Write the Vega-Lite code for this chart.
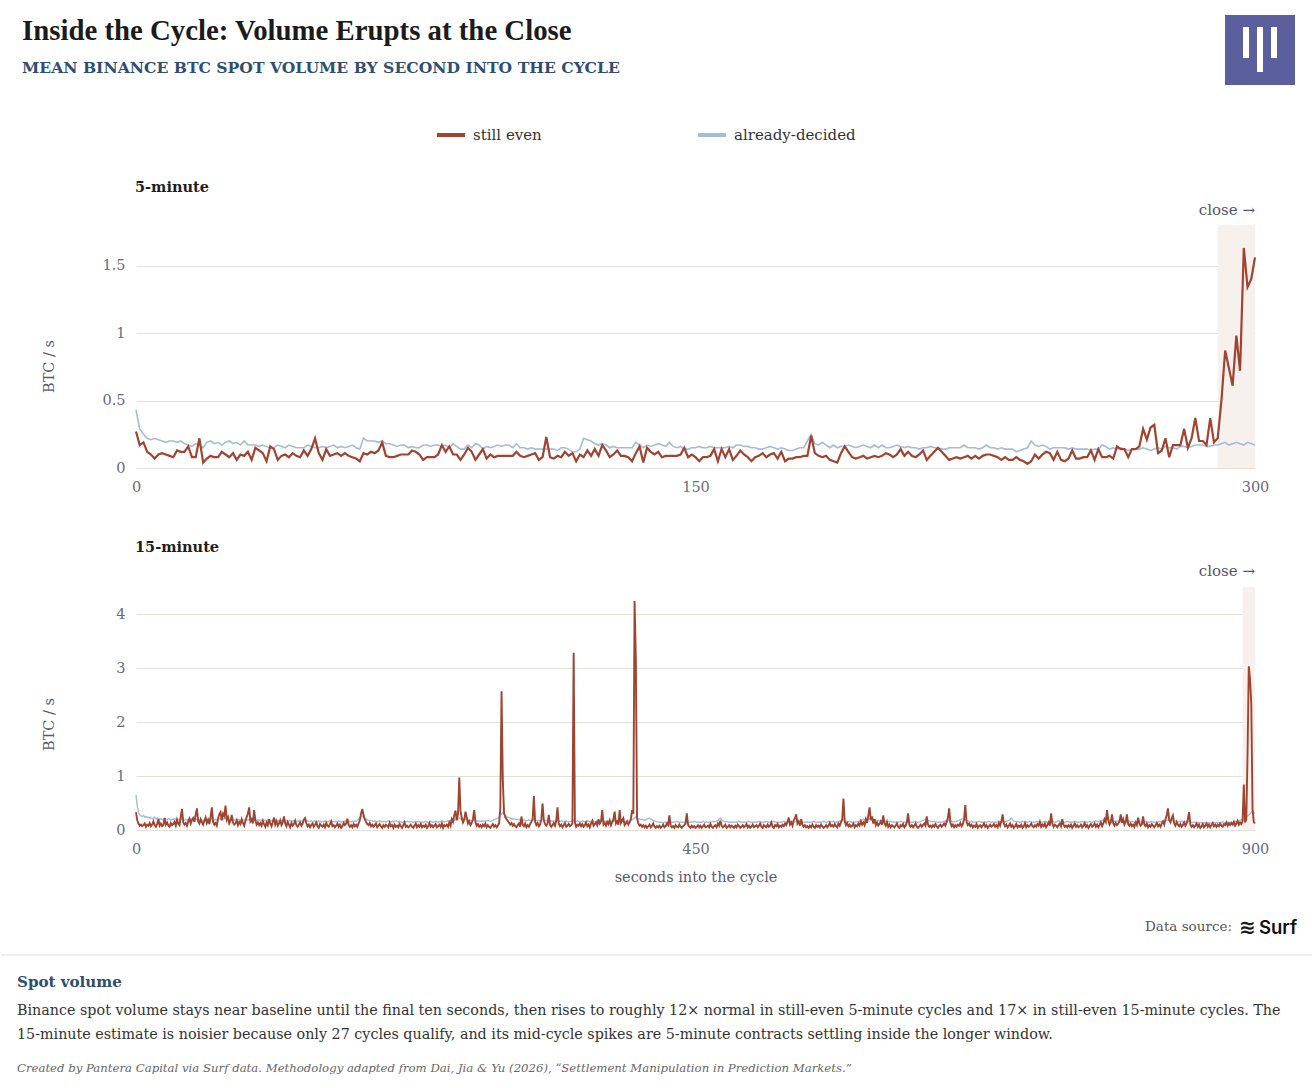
{
  "$schema": "https://vega.github.io/schema/vega-lite/v6.json",
  "background": "#ffffff",
  "padding": {"left": 0, "top": 15, "right": 0, "bottom": 0},
  "spacing": 46,
  "resolve": {"scale": {"color": "independent"}},
  "vconcat": [
    {
      "width": 1119,
      "height": 243,
      "data": {
        "values": "s,e,d\n0,.27,.43\n1,.17,.29\n2,.19,.25\n3,.12,.22\n4,.10,.21\n5,.07,.22\n6,.10,.21\n7,.11,.20\n8,.10,.19\n9,.09,.20\n10,.08,.20\n11,.13,.19\n12,.12,.20\n13,.12,.18\n14,.16,.17\n15,.08,.16\n16,.08,.18\n17,.22,.17\n18,.04,.15\n19,.07,.19\n20,.09,.20\n21,.08,.18\n22,.08,.19\n23,.12,.17\n24,.10,.19\n25,.08,.20\n26,.11,.18\n27,.06,.19\n28,.10,.17\n29,.09,.20\n30,.12,.17\n31,.06,.17\n32,.15,.17\n33,.13,.16\n34,.11,.17\n35,.05,.16\n36,.16,.15\n37,.14,.15\n38,.06,.17\n39,.09,.16\n40,.10,.15\n41,.08,.17\n42,.11,.16\n43,.09,.15\n44,.08,.15\n45,.13,.15\n46,.09,.17\n47,.14,.16\n48,.22,.15\n49,.11,.15\n50,.06,.16\n51,.14,.15\n52,.09,.16\n53,.10,.17\n54,.11,.15\n55,.09,.16\n56,.11,.15\n57,.09,.16\n58,.08,.17\n59,.07,.15\n60,.05,.14\n61,.11,.22\n62,.10,.20\n63,.12,.20\n64,.11,.20\n65,.13,.19\n66,.19,.20\n67,.09,.18\n68,.08,.18\n69,.08,.17\n70,.09,.16\n71,.10,.17\n72,.10,.17\n73,.10,.15\n74,.13,.16\n75,.12,.15\n76,.10,.15\n77,.06,.17\n78,.08,.17\n79,.08,.16\n80,.08,.17\n81,.10,.17\n82,.17,.16\n83,.12,.17\n84,.16,.15\n85,.10,.18\n86,.10,.16\n87,.06,.14\n88,.10,.14\n89,.15,.17\n90,.12,.15\n91,.06,.18\n92,.10,.17\n93,.14,.14\n94,.07,.16\n95,.10,.15\n96,.08,.16\n97,.09,.17\n98,.09,.16\n99,.09,.17\n100,.09,.17\n101,.09,.15\n102,.12,.18\n103,.09,.15\n104,.08,.15\n105,.09,.14\n106,.10,.15\n107,.11,.14\n108,.06,.14\n109,.08,.14\n110,.23,.14\n111,.08,.14\n112,.07,.14\n113,.09,.13\n114,.08,.15\n115,.12,.15\n116,.09,.14\n117,.11,.12\n118,.05,.12\n119,.10,.14\n120,.08,.22\n121,.13,.21\n122,.09,.20\n123,.14,.18\n124,.09,.17\n125,.17,.18\n126,.13,.17\n127,.08,.15\n128,.10,.16\n129,.13,.15\n130,.09,.15\n131,.09,.15\n132,.08,.15\n133,.05,.15\n134,.11,.19\n135,.16,.17\n136,.04,.15\n137,.15,.17\n138,.12,.16\n139,.10,.17\n140,.12,.18\n141,.08,.17\n142,.09,.16\n143,.09,.19\n144,.09,.16\n145,.09,.15\n146,.10,.16\n147,.15,.14\n148,.08,.14\n149,.10,.15\n150,.08,.15\n151,.05,.16\n152,.08,.15\n153,.08,.15\n154,.09,.16\n155,.14,.15\n156,.05,.15\n157,.14,.15\n158,.08,.15\n159,.14,.16\n160,.06,.15\n161,.09,.17\n162,.13,.17\n163,.10,.16\n164,.08,.16\n165,.05,.15\n166,.08,.15\n167,.09,.14\n168,.11,.14\n169,.08,.15\n170,.10,.16\n171,.11,.15\n172,.07,.14\n173,.12,.15\n174,.05,.14\n175,.07,.13\n176,.07,.13\n177,.08,.14\n178,.08,.15\n179,.09,.15\n180,.09,.20\n181,.24,.25\n182,.11,.18\n183,.09,.17\n184,.08,.19\n185,.09,.17\n186,.06,.15\n187,.05,.17\n188,.04,.15\n189,.11,.16\n190,.16,.16\n191,.12,.17\n192,.08,.16\n193,.07,.15\n194,.08,.16\n195,.09,.17\n196,.07,.16\n197,.08,.15\n198,.09,.17\n199,.08,.15\n200,.09,.17\n201,.11,.15\n202,.10,.15\n203,.08,.16\n204,.10,.17\n205,.14,.16\n206,.09,.15\n207,.12,.16\n208,.09,.15\n209,.08,.15\n210,.10,.14\n211,.13,.15\n212,.06,.15\n213,.09,.16\n214,.12,.15\n215,.15,.15\n216,.12,.14\n217,.09,.14\n218,.06,.15\n219,.07,.15\n220,.08,.15\n221,.07,.15\n222,.08,.17\n223,.09,.15\n224,.07,.15\n225,.09,.15\n226,.07,.14\n227,.09,.15\n228,.10,.17\n229,.10,.15\n230,.09,.15\n231,.08,.14\n232,.06,.15\n233,.08,.14\n234,.06,.14\n235,.06,.14\n236,.08,.12\n237,.06,.13\n238,.05,.14\n239,.03,.15\n240,.05,.20\n241,.10,.17\n242,.07,.16\n243,.10,.17\n244,.12,.16\n245,.11,.14\n246,.06,.15\n247,.12,.15\n248,.06,.15\n249,.05,.15\n250,.07,.14\n251,.13,.15\n252,.07,.14\n253,.07,.14\n254,.08,.14\n255,.08,.14\n256,.13,.13\n257,.06,.14\n258,.14,.14\n259,.08,.17\n260,.08,.16\n261,.09,.14\n262,.07,.15\n263,.16,.14\n264,.14,.15\n265,.14,.14\n266,.08,.13\n267,.14,.14\n268,.14,.14\n269,.16,.14\n270,.29,.15\n271,.21,.14\n272,.30,.13\n273,.32,.14\n274,.11,.15\n275,.13,.14\n276,.22,.16\n277,.08,.15\n278,.17,.15\n279,.17,.14\n280,.17,.16\n281,.29,.16\n282,.15,.15\n283,.22,.16\n284,.37,.17\n285,.20,.17\n286,.20,.17\n287,.17,.16\n288,.37,.16\n289,.19,.17\n290,.22,.17\n291,.50,.18\n292,.87,.19\n293,.74,.17\n294,.61,.18\n295,.98,.19\n296,.72,.18\n297,1.63,.17\n298,1.34,.19\n299,1.40,.18\n300,1.56,.17",
        "format": {"type": "csv", "parse": {"s": "number", "e": "number", "d": "number"}}
      },
      "encoding": {
        "x": {
          "field": "s",
          "type": "quantitative",
          "title": null,
          "scale": {"domain": [0, 300], "nice": false, "zero": false},
          "axis": {"values": [0, 150, 300]}
        }
      },
      "layer": [
        {
          "data": {"values": [{"s": 290, "s2": 300}]},
          "mark": {"type": "rect", "color": "#f7f1ee"},
          "encoding": {
            "x2": {"field": "s2"},
            "y": {"datum": 0, "type": "quantitative", "title": "BTC / s", "scale": {"domain": [0, 1.8], "nice": false}, "axis": {"values": [0, 0.5, 1, 1.5], "format": "~g", "grid": true}},
            "y2": {"datum": 1.8}
          }
        },
        {
          "mark": {"type": "line", "strokeWidth": 1.6},
          "encoding": {
            "y": {
              "field": "d",
              "type": "quantitative",
              "title": "BTC / s",
              "scale": {"domain": [0, 1.8], "nice": false},
              "axis": {"values": [0, 0.5, 1, 1.5], "format": "~g", "grid": true}
            },
            "color": {
              "datum": "already-decided",
              "scale": {"domain": ["still even", "already-decided"], "range": ["#a0432f", "#a3bcd9"]},
              "legend": {
                "orient": "none", "legendX": 299, "legendY": -106, "direction": "horizontal",
                "title": null, "symbolType": "stroke", "symbolStrokeWidth": 4, "symbolSize": 784,
                "labelFont": "DejaVu Serif", "labelFontSize": 15, "labelColor": "#333333",
                "labelOffset": 6, "columnPadding": 148, "padding": 0
              }
            }
          }
        },
        {
          "mark": {"type": "line", "strokeWidth": 2.2},
          "encoding": {
            "y": {
              "field": "e",
              "type": "quantitative",
              "title": "BTC / s",
              "scale": {"domain": [0, 1.8], "nice": false},
              "axis": {"values": [0, 0.5, 1, 1.5], "format": "~g", "grid": true}
            },
            "color": {
              "datum": "still even",
              "scale": {"domain": ["still even", "already-decided"], "range": ["#a0432f", "#a3bcd9"]},
              "legend": {
                "orient": "none", "legendX": 299, "legendY": -106, "direction": "horizontal",
                "title": null, "symbolType": "stroke", "symbolStrokeWidth": 4, "symbolSize": 784,
                "labelFont": "DejaVu Serif", "labelFontSize": 15, "labelColor": "#333333",
                "labelOffset": 6, "columnPadding": 148, "padding": 0
              }
            }
          }
        },
        {
          "data": {"values": [{"t": "close →"}]},
          "mark": {"type": "text", "align": "right", "baseline": "middle", "fontSize": 15, "color": "#555566"},
          "encoding": {"x": {"value": 1119}, "y": {"value": -15}, "text": {"field": "t"}}
        },
        {
          "data": {"values": [{"t": "5-minute"}]},
          "mark": {"type": "text", "align": "left", "baseline": "middle", "fontSize": 14.5, "fontWeight": "bold", "color": "#1e1e1e"},
          "encoding": {"x": {"value": -1}, "y": {"value": -37}, "text": {"field": "t"}}
        },
        {
          "data": {"values": [{"t": "Inside the Cycle: Volume Erupts at the Close"}]},
          "mark": {"type": "text", "align": "left", "baseline": "middle", "font": "Liberation Serif", "fontSize": 28.8, "fontWeight": "bold", "color": "#1b1b1b"},
          "encoding": {"x": {"value": -114}, "y": {"value": -194}, "text": {"field": "t"}}
        },
        {
          "data": {"values": [{"t": "MEAN BINANCE BTC SPOT VOLUME BY SECOND INTO THE CYCLE"}]},
          "mark": {"type": "text", "align": "left", "baseline": "middle", "font": "DejaVu Serif", "fontSize": 15.6, "fontWeight": "bold", "color": "#2e4e74"},
          "encoding": {"x": {"value": -114}, "y": {"value": -157}, "text": {"field": "t"}}
        },
        {
          "data": {"values": [{}]},
          "mark": {"type": "rect", "color": "#5c5f9e"},
          "encoding": {"x": {"value": 1089}, "x2": {"value": 1159}, "y": {"value": -210}, "y2": {"value": -140}}
        },
        {
          "data": {"values": [{}]},
          "mark": {"type": "rect", "color": "#ffffff"},
          "encoding": {"x": {"value": 1107}, "x2": {"value": 1113}, "y": {"value": -198}, "y2": {"value": -167}}
        },
        {
          "data": {"values": [{}]},
          "mark": {"type": "rect", "color": "#ffffff"},
          "encoding": {"x": {"value": 1121}, "x2": {"value": 1127}, "y": {"value": -198}, "y2": {"value": -153}}
        },
        {
          "data": {"values": [{}]},
          "mark": {"type": "rect", "color": "#ffffff"},
          "encoding": {"x": {"value": 1135}, "x2": {"value": 1141}, "y": {"value": -198}, "y2": {"value": -167}}
        }
      ]
    },
    {
      "width": 1119,
      "height": 243,
      "data": {
        "values": "s,e,d\n0,.33,.65\n1,.18,.45\n2,.12,.33\n3,.08,.28\n4,.1,.26\n5,.07,.25\n6,.09,.27\n7,.12,.24\n8,.06,.25\n9,.1,.23\n10,.08,.24\n11,.13,.22\n12,.07,.23\n13,.1,.21\n14,.16,.22\n15,.09,.24\n16,.06,.2\n17,.11,.22\n18,.2,.21\n19,.08,.2\n20,.12,.21\n21,.07,.19\n22,.09,.2\n23,.22,.22\n24,.1,.2\n25,.14,.19\n26,.08,.21\n27,.06,.2\n28,.13,.18\n29,.09,.2\n30,.11,.19\n31,.15,.21\n32,.08,.2\n33,.19,.18\n34,.12,.2\n35,.09,.19\n36,.25,.21\n37,.39,.2\n38,.14,.19\n39,.1,.18\n40,.13,.2\n41,.08,.19\n42,.16,.18\n43,.21,.2\n44,.12,.21\n45,.18,.19\n46,.22,.2\n47,.15,.18\n48,.28,.19\n49,.4,.2\n50,.16,.19\n51,.12,.18\n52,.2,.2\n53,.14,.19\n54,.1,.17\n55,.17,.19\n56,.23,.2\n57,.13,.18\n58,.19,.19\n59,.11,.18\n60,.24,.2\n61,.42,.21\n62,.15,.19\n63,.1,.18\n64,.13,.2\n65,.08,.19\n66,.21,.18\n67,.29,.2\n68,.33,.21\n69,.18,.19\n70,.3,.2\n71,.26,.21\n72,.45,.22\n73,.19,.2\n74,.24,.19\n75,.12,.2\n76,.17,.18\n77,.28,.19\n78,.14,.2\n79,.1,.18\n80,.12,.19\n81,.18,.18\n82,.09,.2\n83,.15,.19\n84,.11,.18\n85,.2,.17\n86,.13,.19\n87,.08,.18\n88,.16,.2\n89,.24,.19\n90,.3,.18\n91,.42,.2\n92,.16,.19\n93,.2,.18\n94,.12,.2\n95,.37,.19\n96,.18,.17\n97,.1,.18\n98,.14,.19\n99,.09,.18\n100,.13,.19\n101,.08,.18\n102,.17,.17\n103,.11,.19\n104,.06,.18\n105,.14,.17\n106,.09,.19\n107,.2,.18\n108,.12,.17\n109,.07,.18\n110,.15,.17\n111,.23,.18\n112,.1,.19\n113,.16,.17\n114,.08,.18\n115,.12,.16\n116,.18,.18\n117,.09,.17\n118,.14,.19\n119,.25,.18\n120,.12,.17\n121,.07,.18\n122,.15,.16\n123,.1,.17\n124,.05,.18\n125,.13,.17\n126,.08,.16\n127,.11,.18\n128,.17,.17\n129,.09,.16\n130,.06,.17\n131,.1,.16\n132,.14,.18\n133,.08,.17\n134,.12,.16\n135,.19,.17\n136,.22,.18\n137,.13,.16\n138,.07,.17\n139,.1,.16\n140,.05,.16\n141,.09,.17\n142,.12,.15\n143,.06,.16\n144,.1,.17\n145,.14,.16\n146,.07,.15\n147,.04,.17\n148,.11,.16\n149,.08,.15\n150,.06,.16\n151,.1,.15\n152,.05,.17\n153,.13,.16\n154,.08,.15\n155,.06,.16\n156,.11,.17\n157,.16,.15\n158,.07,.16\n159,.09,.15\n160,.05,.15\n161,.08,.16\n162,.12,.15\n163,.06,.17\n164,.1,.16\n165,.04,.15\n166,.07,.16\n167,.13,.15\n168,.09,.17\n169,.12,.16\n170,.21,.16\n171,.1,.15\n172,.06,.16\n173,.09,.15\n174,.05,.16\n175,.11,.15\n176,.07,.17\n177,.1,.16\n178,.06,.18\n179,.12,.2\n180,.18,.23\n181,.3,.25\n182,.39,.26\n183,.28,.24\n184,.2,.22\n185,.15,.2\n186,.11,.19\n187,.09,.18\n188,.13,.17\n189,.07,.18\n190,.1,.17\n191,.06,.16\n192,.09,.17\n193,.12,.16\n194,.05,.15\n195,.08,.16\n196,.11,.17\n197,.07,.16\n198,.04,.15\n199,.09,.16\n200,.06,.16\n201,.1,.15\n202,.08,.16\n203,.05,.17\n204,.13,.16\n205,.07,.15\n206,.09,.16\n207,.04,.15\n208,.1,.16\n209,.06,.17\n210,.08,.16\n211,.05,.15\n212,.11,.16\n213,.07,.15\n214,.04,.14\n215,.09,.15\n216,.14,.16\n217,.06,.15\n218,.08,.16\n219,.05,.15\n220,.07,.15\n221,.1,.16\n222,.06,.15\n223,.04,.14\n224,.08,.15\n225,.12,.16\n226,.05,.15\n227,.09,.16\n228,.06,.15\n229,.11,.14\n230,.05,.15\n231,.08,.14\n232,.06,.15\n233,.1,.16\n234,.04,.15\n235,.07,.14\n236,.13,.15\n237,.06,.16\n238,.09,.15\n239,.05,.14\n240,.08,.15\n241,.11,.16\n242,.05,.15\n243,.07,.14\n244,.1,.16\n245,.06,.15\n246,.12,.17\n247,.04,.16\n248,.09,.15\n249,.07,.16\n250,.1,.16\n251,.06,.17\n252,.14,.16\n253,.08,.18\n254,.2,.17\n255,.15,.19\n256,.28,.18\n257,.36,.2\n258,.18,.19\n259,.3,.2\n260,.97,.22\n261,.35,.21\n262,.22,.2\n263,.14,.19\n264,.19,.2\n265,.34,.21\n266,.24,.19\n267,.12,.18\n268,.16,.19\n269,.09,.18\n270,.13,.17\n271,.2,.18\n272,.37,.19\n273,.15,.18\n274,.08,.17\n275,.11,.16\n276,.06,.17\n277,.09,.16\n278,.05,.17\n279,.1,.16\n280,.07,.17\n281,.12,.16\n282,.05,.17\n283,.09,.18\n284,.06,.17\n285,.04,.16\n286,.08,.17\n287,.11,.18\n288,.06,.19\n289,.09,.2\n290,.05,.21\n291,.08,.22\n292,.12,.24\n293,.4,.27\n294,2.57,.3\n295,.95,.32\n296,.32,.29\n297,.24,.27\n298,.2,.25\n299,.17,.24\n300,.14,.23\n301,.1,.22\n302,.13,.21\n303,.08,.2\n304,.11,.21\n305,.07,.2\n306,.05,.19\n307,.09,.2\n308,.12,.19\n309,.06,.18\n310,.25,.19\n311,.1,.18\n312,.07,.19\n313,.12,.18\n314,.05,.17\n315,.09,.18\n316,.06,.19\n317,.11,.18\n318,.15,.17\n319,.2,.18\n320,.63,.2\n321,.15,.19\n322,.09,.18\n323,.13,.17\n324,.07,.18\n325,.1,.17\n326,.2,.18\n327,.49,.2\n328,.18,.19\n329,.11,.18\n330,.08,.17\n331,.12,.18\n332,.28,.17\n333,.1,.16\n334,.06,.17\n335,.09,.16\n336,.13,.17\n337,.08,.16\n338,.17,.17\n339,.42,.18\n340,.12,.17\n341,.07,.16\n342,.1,.17\n343,.05,.16\n344,.09,.15\n345,.13,.16\n346,.06,.17\n347,.08,.16\n348,.11,.15\n349,.07,.16\n350,.09,.16\n351,.12,.17\n352,3.28,.18\n353,.14,.17\n354,.06,.16\n355,.1,.17\n356,.08,.16\n357,.12,.15\n358,.07,.16\n359,.11,.17\n360,.06,.16\n361,.09,.15\n362,.14,.16\n363,.07,.17\n364,.1,.16\n365,.05,.15\n366,.12,.16\n367,.17,.15\n368,.08,.16\n369,.11,.15\n370,.14,.16\n371,.09,.17\n372,.2,.16\n373,.12,.15\n374,.16,.16\n375,.37,.17\n376,.1,.16\n377,.13,.17\n378,.08,.16\n379,.15,.15\n380,.11,.16\n381,.18,.15\n382,.09,.16\n383,.14,.17\n384,.2,.16\n385,.34,.17\n386,.12,.16\n387,.16,.15\n388,.1,.16\n389,.37,.17\n390,.13,.16\n391,.18,.17\n392,.22,.16\n393,.09,.15\n394,.12,.16\n395,.16,.17\n396,.1,.16\n397,.14,.17\n398,.2,.18\n399,.37,.19\n400,.3,.2\n401,4.24,.22\n402,3.2,.24\n403,.22,.22\n404,.12,.21\n405,.08,.2\n406,.1,.19\n407,.06,.2\n408,.09,.19\n409,.05,.18\n410,.08,.19\n411,.04,.2\n412,.07,.21\n413,.1,.22\n414,.05,.2\n415,.08,.19\n416,.12,.18\n417,.06,.17\n418,.04,.16\n419,.07,.15\n420,.05,.15\n421,.08,.14\n422,.04,.15\n423,.06,.14\n424,.1,.13\n425,.05,.14\n426,.07,.15\n427,.12,.14\n428,.09,.15\n429,.27,.16\n430,.08,.15\n431,.05,.14\n432,.07,.15\n433,.04,.14\n434,.09,.15\n435,.06,.16\n436,.05,.15\n437,.1,.14\n438,.06,.15\n439,.04,.14\n440,.07,.15\n441,.09,.14\n442,.12,.15\n443,.31,.16\n444,.1,.15\n445,.06,.14\n446,.04,.15\n447,.08,.14\n448,.05,.15\n449,.07,.16\n450,.04,.15\n451,.06,.14\n452,.09,.15\n453,.05,.14\n454,.08,.15\n455,.04,.14\n456,.07,.16\n457,.1,.15\n458,.05,.14\n459,.06,.15\n460,.08,.14\n461,.05,.15\n462,.11,.14\n463,.06,.15\n464,.04,.16\n465,.07,.15\n466,.09,.16\n467,.05,.17\n468,.12,.18\n469,.08,.2\n470,.17,.22\n471,.08,.19\n472,.05,.17\n473,.07,.16\n474,.1,.15\n475,.04,.16\n476,.06,.15\n477,.09,.14\n478,.05,.15\n479,.08,.14\n480,.06,.15\n481,.04,.14\n482,.08,.15\n483,.05,.14\n484,.1,.15\n485,.07,.16\n486,.04,.15\n487,.06,.14\n488,.09,.15\n489,.05,.14\n490,.07,.15\n491,.11,.14\n492,.05,.15\n493,.08,.16\n494,.04,.15\n495,.06,.14\n496,.1,.15\n497,.05,.14\n498,.07,.15\n499,.09,.14\n500,.05,.15\n501,.08,.16\n502,.12,.15\n503,.06,.14\n504,.04,.15\n505,.09,.14\n506,.07,.15\n507,.05,.16\n508,.1,.15\n509,.06,.14\n510,.08,.15\n511,.14,.14\n512,.06,.15\n513,.04,.16\n514,.09,.15\n515,.07,.14\n516,.11,.15\n517,.05,.14\n518,.08,.15\n519,.06,.14\n520,.1,.15\n521,.07,.16\n522,.12,.15\n523,.09,.14\n524,.15,.15\n525,.23,.16\n526,.1,.15\n527,.14,.16\n528,.08,.15\n529,.18,.14\n530,.22,.15\n531,.29,.16\n532,.12,.17\n533,.16,.16\n534,.08,.15\n535,.2,.16\n536,.1,.15\n537,.06,.14\n538,.09,.15\n539,.05,.14\n540,.07,.15\n541,.04,.14\n542,.08,.15\n543,.05,.14\n544,.1,.15\n545,.06,.16\n546,.04,.15\n547,.09,.14\n548,.06,.15\n549,.08,.14\n550,.05,.15\n551,.1,.14\n552,.07,.15\n553,.04,.16\n554,.06,.15\n555,.09,.14\n556,.05,.15\n557,.08,.16\n558,.13,.15\n559,.07,.16\n560,.09,.15\n561,.06,.16\n562,.11,.15\n563,.07,.14\n564,.05,.15\n565,.12,.16\n566,.08,.17\n567,.14,.16\n568,.2,.17\n569,.58,.19\n570,.16,.18\n571,.09,.17\n572,.13,.16\n573,.07,.15\n574,.1,.16\n575,.06,.15\n576,.08,.14\n577,.12,.15\n578,.05,.14\n579,.09,.15\n580,.07,.15\n581,.12,.16\n582,.08,.17\n583,.16,.18\n584,.1,.19\n585,.14,.2\n586,.09,.19\n587,.2,.18\n588,.13,.19\n589,.27,.2\n590,.42,.21\n591,.18,.2\n592,.25,.19\n593,.12,.18\n594,.2,.19\n595,.09,.18\n596,.14,.17\n597,.08,.18\n598,.11,.17\n599,.16,.16\n600,.1,.17\n601,.27,.18\n602,.12,.17\n603,.08,.16\n604,.15,.15\n605,.06,.16\n606,.1,.15\n607,.05,.16\n608,.09,.15\n609,.07,.14\n610,.05,.15\n611,.08,.14\n612,.12,.15\n613,.06,.14\n614,.04,.15\n615,.09,.16\n616,.07,.15\n617,.11,.14\n618,.05,.15\n619,.08,.14\n620,.14,.15\n621,.31,.16\n622,.1,.15\n623,.06,.14\n624,.09,.15\n625,.05,.14\n626,.08,.15\n627,.12,.16\n628,.06,.15\n629,.04,.14\n630,.07,.15\n631,.1,.16\n632,.06,.17\n633,.09,.18\n634,.12,.19\n635,.08,.2\n636,.25,.19\n637,.1,.18\n638,.06,.17\n639,.08,.16\n640,.05,.16\n641,.09,.15\n642,.06,.16\n643,.11,.15\n644,.07,.14\n645,.04,.15\n646,.08,.14\n647,.1,.15\n648,.06,.14\n649,.09,.15\n650,.12,.16\n651,.08,.17\n652,.15,.16\n653,.22,.17\n654,.4,.18\n655,.14,.17\n656,.07,.16\n657,.1,.15\n658,.05,.16\n659,.09,.15\n660,.06,.16\n661,.1,.17\n662,.08,.18\n663,.13,.19\n664,.07,.2\n665,.11,.21\n666,.2,.2\n667,.46,.19\n668,.15,.18\n669,.09,.17\n670,.12,.16\n671,.07,.15\n672,.1,.16\n673,.05,.15\n674,.08,.14\n675,.06,.15\n676,.11,.14\n677,.04,.15\n678,.07,.16\n679,.09,.15\n680,.05,.14\n681,.08,.15\n682,.12,.14\n683,.06,.15\n684,.09,.14\n685,.04,.15\n686,.07,.16\n687,.1,.15\n688,.06,.14\n689,.08,.15\n690,.11,.14\n691,.06,.15\n692,.09,.14\n693,.05,.15\n694,.13,.16\n695,.08,.15\n696,.16,.16\n697,.29,.15\n698,.12,.14\n699,.07,.15\n700,.1,.16\n701,.05,.17\n702,.08,.18\n703,.12,.2\n704,.06,.22\n705,.09,.19\n706,.04,.17\n707,.07,.16\n708,.11,.15\n709,.05,.16\n710,.08,.15\n711,.06,.14\n712,.1,.15\n713,.04,.16\n714,.07,.15\n715,.13,.14\n716,.05,.15\n717,.09,.14\n718,.06,.15\n719,.08,.16\n720,.12,.15\n721,.07,.14\n722,.05,.15\n723,.09,.14\n724,.06,.15\n725,.11,.16\n726,.08,.15\n727,.15,.14\n728,.06,.15\n729,.1,.14\n730,.07,.15\n731,.12,.16\n732,.05,.15\n733,.09,.14\n734,.14,.15\n735,.08,.16\n736,.31,.15\n737,.12,.16\n738,.06,.15\n739,.1,.14\n740,.08,.15\n741,.05,.16\n742,.09,.17\n743,.12,.16\n744,.07,.15\n745,.2,.16\n746,.1,.15\n747,.06,.14\n748,.08,.15\n749,.05,.16\n750,.09,.15\n751,.06,.14\n752,.1,.15\n753,.04,.14\n754,.08,.15\n755,.12,.16\n756,.06,.15\n757,.09,.14\n758,.05,.15\n759,.07,.14\n760,.1,.15\n761,.05,.16\n762,.08,.15\n763,.13,.14\n764,.06,.15\n765,.09,.14\n766,.04,.15\n767,.08,.16\n768,.11,.15\n769,.06,.14\n770,.08,.15\n771,.12,.16\n772,.06,.17\n773,.1,.16\n774,.05,.15\n775,.09,.16\n776,.14,.17\n777,.07,.18\n778,.12,.19\n779,.2,.2\n780,.15,.21\n781,.37,.2\n782,.18,.19\n783,.1,.18\n784,.14,.19\n785,.29,.18\n786,.12,.17\n787,.08,.16\n788,.13,.17\n789,.09,.16\n790,.12,.17\n791,.16,.16\n792,.29,.17\n793,.13,.18\n794,.2,.17\n795,.1,.16\n796,.15,.17\n797,.29,.16\n798,.11,.15\n799,.08,.16\n800,.12,.15\n801,.07,.16\n802,.1,.15\n803,.06,.14\n804,.14,.15\n805,.09,.16\n806,.23,.15\n807,.12,.16\n808,.08,.15\n809,.11,.14\n810,.25,.15\n811,.1,.16\n812,.07,.15\n813,.12,.14\n814,.05,.15\n815,.09,.14\n816,.06,.15\n817,.11,.16\n818,.08,.15\n819,.05,.14\n820,.09,.15\n821,.13,.14\n822,.07,.15\n823,.1,.16\n824,.06,.15\n825,.12,.16\n826,.16,.17\n827,.1,.16\n828,.2,.17\n829,.27,.18\n830,.4,.19\n831,.18,.18\n832,.14,.17\n833,.22,.18\n834,.27,.17\n835,.12,.16\n836,.08,.17\n837,.15,.16\n838,.1,.15\n839,.07,.16\n840,.11,.15\n841,.06,.16\n842,.09,.15\n843,.14,.16\n844,.08,.15\n845,.12,.14\n846,.2,.15\n847,.33,.16\n848,.1,.15\n849,.06,.14\n850,.09,.14\n851,.05,.15\n852,.08,.14\n853,.12,.13\n854,.06,.14\n855,.1,.13\n856,.04,.14\n857,.07,.13\n858,.11,.14\n859,.05,.13\n860,.08,.13\n861,.12,.14\n862,.06,.13\n863,.1,.14\n864,.05,.13\n865,.09,.12\n866,.13,.13\n867,.07,.14\n868,.1,.13\n869,.06,.14\n870,.1,.13\n871,.07,.14\n872,.12,.13\n873,.08,.14\n874,.06,.15\n875,.11,.14\n876,.09,.13\n877,.14,.14\n878,.08,.15\n879,.12,.14\n880,.09,.14\n881,.13,.15\n882,.1,.14\n883,.15,.15\n884,.08,.16\n885,.12,.15\n886,.17,.16\n887,.1,.17\n888,.14,.18\n889,.11,.19\n890,.16,.2\n891,.84,.21\n892,.14,.22\n893,.2,.24\n894,1.4,.26\n895,3.03,.28\n896,2.8,.3\n897,2.35,.33\n898,.4,.35\n899,.15,.32\n900,.12,.3",
        "format": {"type": "csv", "parse": {"s": "number", "e": "number", "d": "number"}}
      },
      "encoding": {
        "x": {
          "field": "s",
          "type": "quantitative",
          "title": "seconds into the cycle",
          "scale": {"domain": [0, 900], "nice": false, "zero": false},
          "axis": {"values": [0, 450, 900], "titleY": 47, "titleBaseline": "middle"}
        }
      },
      "layer": [
        {
          "data": {"values": [{"s": 890, "s2": 900}]},
          "mark": {"type": "rect", "color": "#f7f1ee"},
          "encoding": {
            "x2": {"field": "s2"},
            "y": {"datum": 0, "type": "quantitative", "title": "BTC / s", "scale": {"domain": [0, 4.5], "nice": false}, "axis": {"values": [0, 1, 2, 3, 4], "format": "~g", "grid": true, "titleY": 137}},
            "y2": {"datum": 4.5}
          }
        },
        {
          "mark": {"type": "line", "strokeWidth": 1.4},
          "encoding": {
            "y": {
              "field": "d",
              "type": "quantitative",
              "title": "BTC / s",
              "scale": {"domain": [0, 4.5], "nice": false},
              "axis": {"values": [0, 1, 2, 3, 4], "format": "~g", "grid": true, "titleY": 137}
            },
            "color": {
              "datum": "already-decided",
              "scale": {"domain": ["still even", "already-decided"], "range": ["#a0432f", "#a3bcd9"]},
              "legend": null
            }
          }
        },
        {
          "mark": {"type": "line", "strokeWidth": 1.9},
          "encoding": {
            "y": {
              "field": "e",
              "type": "quantitative",
              "title": "BTC / s",
              "scale": {"domain": [0, 4.5], "nice": false},
              "axis": {"values": [0, 1, 2, 3, 4], "format": "~g", "grid": true, "titleY": 137}
            },
            "color": {
              "datum": "still even",
              "scale": {"domain": ["still even", "already-decided"], "range": ["#a0432f", "#a3bcd9"]},
              "legend": null
            }
          }
        },
        {
          "data": {"values": [{"t": "close →"}]},
          "mark": {"type": "text", "align": "right", "baseline": "middle", "fontSize": 15, "color": "#555566"},
          "encoding": {"x": {"value": 1119}, "y": {"value": -16}, "text": {"field": "t"}}
        },
        {
          "data": {"values": [{"t": "15-minute"}]},
          "mark": {"type": "text", "align": "left", "baseline": "middle", "fontSize": 14.5, "fontWeight": "bold", "color": "#1e1e1e"},
          "encoding": {"x": {"value": -1}, "y": {"value": -39}, "text": {"field": "t"}}
        },
        {
          "data": {"values": [{"t": "Data source:"}]},
          "mark": {"type": "text", "align": "right", "baseline": "middle", "fontSize": 13.5, "color": "#555555"},
          "encoding": {"x": {"value": 1096}, "y": {"value": 340}, "text": {"field": "t"}}
        },
        {
          "data": {"values": [{"t": "≋"}]},
          "mark": {"type": "text", "align": "left", "baseline": "middle", "font": "DejaVu Sans", "fontSize": 20, "fontWeight": "bold", "color": "#1a1a1a"},
          "encoding": {"x": {"value": 1103}, "y": {"value": 341}, "text": {"field": "t"}}
        },
        {
          "data": {"values": [{"t": "Surf"}]},
          "mark": {"type": "text", "align": "left", "baseline": "middle", "font": "Inter", "fontSize": 18.5, "fontWeight": 600, "color": "#111111"},
          "encoding": {"x": {"value": 1123}, "y": {"value": 341}, "text": {"field": "t"}}
        },
        {
          "data": {"values": [{}]},
          "mark": {"type": "rule", "color": "#deddd8", "strokeWidth": 1},
          "encoding": {"x": {"value": -135}, "x2": {"value": 1177}, "y": {"value": 368}}
        },
        {
          "data": {"values": [{"t": "Spot volume"}]},
          "mark": {"type": "text", "align": "left", "baseline": "middle", "fontSize": 15.1, "fontWeight": "bold", "color": "#2d4e73"},
          "encoding": {"x": {"value": -119}, "y": {"value": 395}, "text": {"field": "t"}}
        },
        {
          "data": {"values": [
            {"t": "Binance spot volume stays near baseline until the final ten seconds, then rises to roughly 12× normal in still-even 5-minute cycles and 17× in still-even 15-minute cycles. The", "ln": 424},
            {"t": "15-minute estimate is noisier because only 27 cycles qualify, and its mid-cycle spikes are 5-minute contracts settling inside the longer window.", "ln": 448}
          ]},
          "mark": {"type": "text", "align": "left", "baseline": "middle", "fontSize": 14.3, "color": "#333333"},
          "encoding": {"x": {"value": -119}, "y": {"field": "ln", "type": "quantitative", "scale": null}, "text": {"field": "t"}}
        },
        {
          "data": {"values": [{"t": "Created by Pantera Capital via Surf data. Methodology adapted from Dai, Jia & Yu (2026), “Settlement Manipulation in Prediction Markets.”"}]},
          "mark": {"type": "text", "align": "left", "baseline": "middle", "fontSize": 11.7, "fontStyle": "italic", "color": "#666666"},
          "encoding": {"x": {"value": -119}, "y": {"value": 481}, "text": {"field": "t"}}
        }
      ]
    }
  ],
  "config": {
    "view": {"stroke": null},
    "font": "DejaVu Serif",
    "text": {"font": "DejaVu Serif"},
    "axis": {
      "labelFont": "DejaVu Serif",
      "labelFontSize": 14.5,
      "labelColor": "#6a6a7c",
      "titleFont": "DejaVu Serif",
      "titleFontSize": 14.5,
      "titleColor": "#5a5a6a",
      "titleFontWeight": "normal",
      "domain": false,
      "ticks": false,
      "gridColor": "#e3e0da",
      "gridWidth": 1
    },
    "axisX": {"grid": false, "labelPadding": 12, "labelFlush": false},
    "axisY": {"grid": true, "labelPadding": 11, "titleX": -87, "titleY": 141, "titleAngle": -90, "titleBaseline": "middle", "titleAlign": "center"}
  }
}
